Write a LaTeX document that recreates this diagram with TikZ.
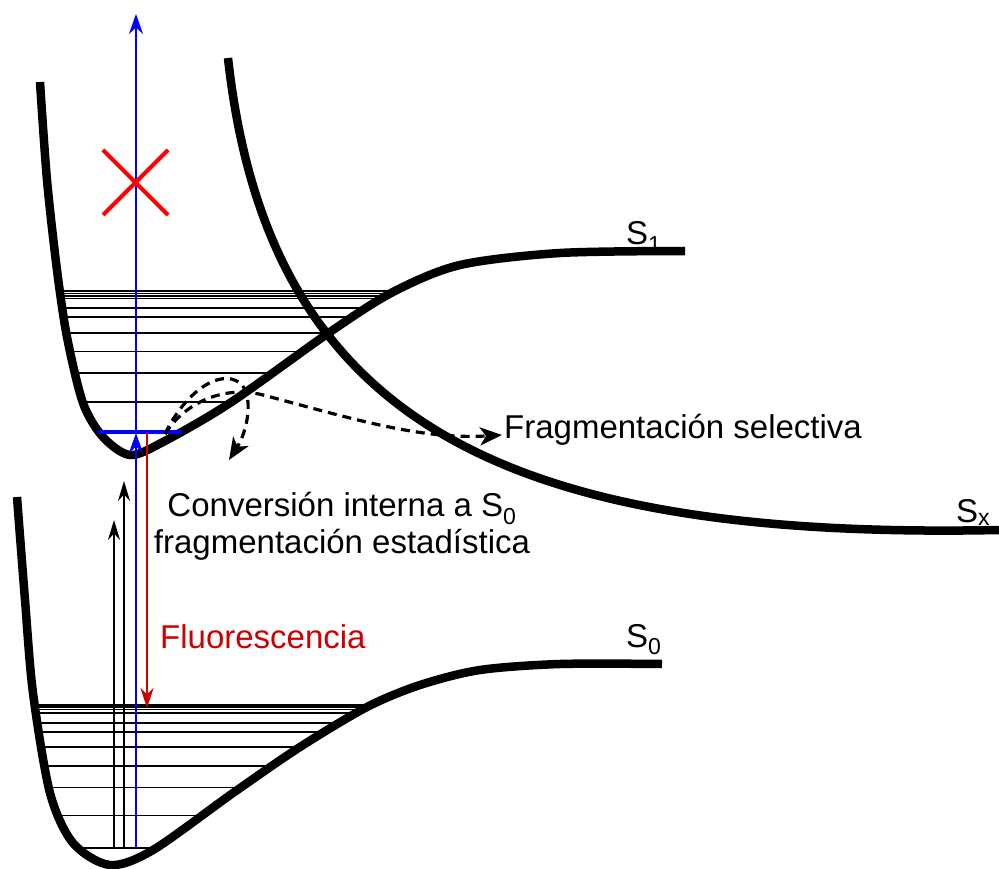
\documentclass[tikz,border=0pt]{standalone}
\usepackage{fontspec}
\setmainfont{Liberation Sans}
\usetikzlibrary{arrows.meta}

\def\pathSone{plot[smooth] coordinates {(40,82) (47,180) (57,270) (67,337) (83,403) (103,437) (130,455) (163,442) (230,403) (330,332) (393,292) (460,265) (560,253) (685,251)}}
\def\pathSx{(228,58) .. controls (268,420) and (500,540) .. (999,530)}
\def\pathSzero{plot[smooth] coordinates {(17,497) (25,600) (33,693) (50,793) (73,843) (110,865) (153,850) (233,793) (300,747) (367,707) (420,685) (480,670) (560,664) (662,664)}}

\begin{document}
\begin{tikzpicture}[x=1pt, y=-1pt,
  pes/.style={line width=8.5pt},
  nivel/.style={line width=1.6pt},
  excit/.style={blue, line width=2.6pt, -{Stealth[length=20pt, width=14pt]}},
  fluo/.style={red!80!black, line width=2.6pt, -{Stealth[length=20pt, width=13pt]}},
  absor/.style={line width=2pt, -{Stealth[length=20pt, width=12pt]}},
  camino/.style={dashed, dash pattern=on 9pt off 6pt, line width=3.2pt, -{Stealth[length=22pt, width=18pt, inset=6pt]}},
  etiq/.style={font=\fontsize{33}{37}\selectfont, inner sep=0pt}
]
\useasboundingbox (0,0) rectangle (999,869);

% niveles vibracionales
\begin{scope}
  \clip \pathSone -- (685,0) -- (40,0) -- cycle;
  \foreach \y in {291,293.5,296,298.5,308,317,333,351.5,373,402}
    \draw[nivel] (0,\y) -- (700,\y);
\end{scope}
\begin{scope}
  \clip \pathSzero -- (662,480) -- (17,480) -- cycle;
  \foreach \y in {705,707,709.5,713,723,732,747,766,787.5,815.5,848}
    \draw[nivel] (0,\y) -- (700,\y);
\end{scope}

% curvas de potencial
\draw[pes] \pathSone;
\draw[pes] \pathSx;
\draw[pes] \pathSzero;

\node[etiq, anchor=base west] (lblSone) at (626,245) {S\textsubscript{1}};
\node[etiq, anchor=base west] (lblSzero) at (626,647) {S\textsubscript{0}};
\node[etiq, anchor=base west] (lblSx) at (956,522) {S\textsubscript{x}};
\node[etiq, anchor=base west] (frag) at (504,438) {Fragmentación selectiva};
\node[etiq, anchor=base west, text=red!80!black] (fluor) at (160,648) {Fluorescencia};
\node[etiq, align=center, anchor=north] (conv) at (342,492) {Conversión interna a S\textsubscript{0}\\fragmentación estadística};

\coordinate (gnd) at (136,848);
\coordinate (vib) at (136,433);
\coordinate (ion) at (136,14);
\coordinate (salida) at (165,434);
\coordinate (ic) at (229,460);

\draw[blue, line width=4pt] (98,432) -- (182,432);
\draw[excit] (gnd) -- (vib);
\draw[excit] (vib) -- (ion);
\draw[fluo] (147,433) -- (147,708);
\draw[absor] (114,848) -- (114,520);
\draw[absor] (124,848) -- (124,481);

% ionizacion bloqueada
\draw[red, line width=4pt] (103,150) -- (168,215) (103,215) -- (168,150);

\draw[camino] (salida) .. controls (185,392) and (220,368) .. (240,383) .. controls (254,395) and (248,430) .. (ic);
\draw[camino] (salida) .. controls (185,402) and (225,385) .. (263,395) .. controls (350,418) and (420,440) .. ([xshift=-2pt, yshift=3pt]frag.base west);
\end{tikzpicture}
\end{document}
